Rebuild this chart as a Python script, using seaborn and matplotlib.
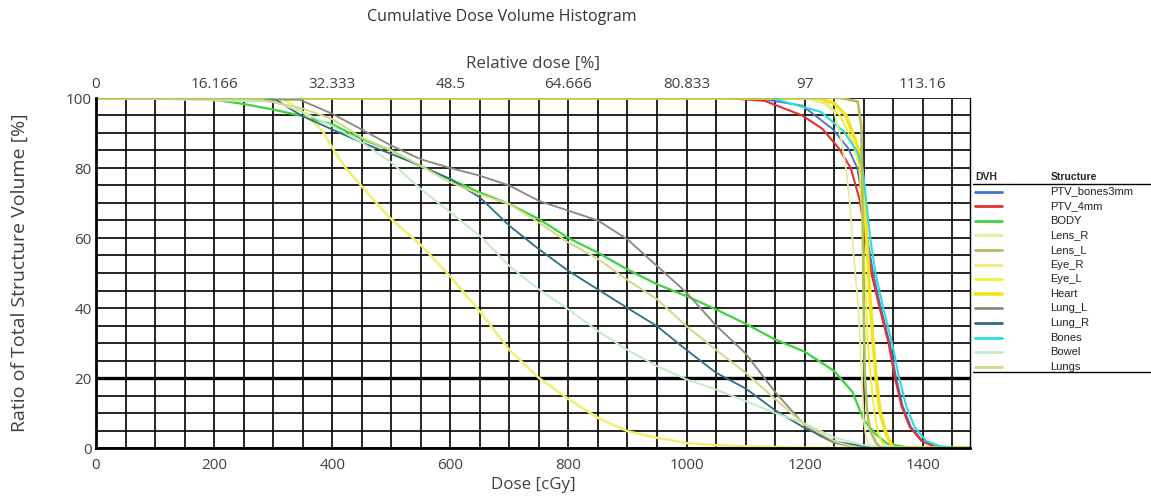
import numpy as np
import pandas as pd
import seaborn as sns
import matplotlib
matplotlib.use("Agg")
import matplotlib.pyplot as plt
from matplotlib.ticker import MultipleLocator

sns.set_style("white")
plt.rcParams["font.family"] = ["Open Sans", "DejaVu Sans"]

# -----------------------------------------------------------------
# DVH data (dose in cGy, volume in %)
# -----------------------------------------------------------------
ptv_bones_dose = [0, 1118, 1196, 1247, 1274, 1289, 1298, 1306, 1316, 1329, 1344, 1355, 1366, 1380, 1400, 1422, 1450, 1480]
ptv_bones_vol = [100, 100, 97.8, 91.2, 85.6, 80, 71, 60, 50, 40, 30, 20, 12, 6, 2, 0.4, 0, 0]

ptv_4mm_dose = [0, 1065, 1132, 1196, 1230, 1258, 1278, 1293, 1303, 1313, 1327, 1342, 1353, 1364, 1378, 1398, 1421, 1445, 1480]
ptv_4mm_vol = [100, 100, 99.2, 95, 91.2, 85.6, 80, 71, 60, 50, 40, 30, 20, 12, 6, 2, 0.3, 0, 0]

body_dose = [0, 150, 200, 250, 300, 350, 400, 450, 500, 550, 600, 650, 700, 750, 800, 850, 900, 950,
             1000, 1050, 1100, 1150, 1200, 1250, 1281, 1300, 1320, 1340, 1370, 1400, 1480]
body_vol = [100, 99.8, 99.5, 98.3, 96.7, 94.8, 92.5, 88.3, 85, 80.5, 76.8, 73, 69.7, 65.4, 60, 55.8, 51, 46.8,
            43.4, 39.6, 35.5, 31, 27.5, 22, 16, 8, 4, 1.2, 0.3, 0, 0]

lens_r_dose = [0, 1200, 1230, 1250, 1262, 1270, 1276, 1283, 1290, 1294, 1297, 1300, 1305, 1315, 1480]
lens_r_vol = [100, 100, 99, 96, 88, 80, 71, 55, 42, 30, 20, 8, 2, 0, 0]

lens_l_dose = [0, 1260, 1290, 1296, 1298, 1300, 1302, 1306, 1311, 1321, 1330, 1480]
lens_l_vol = [100, 100, 99, 92, 70, 40, 20, 10, 5, 1.4, 0, 0]

eye_r_dose = [0, 316, 350, 384, 403, 423, 451, 496, 550, 600, 650, 700, 750, 800, 850, 900, 950,
              1000, 1050, 1100, 1200, 1300, 1480]
eye_r_vol = [100, 100, 96, 90.5, 85, 80, 74.6, 66, 58, 49, 39, 28, 20, 14, 8.6, 4.8, 2.9,
             1.4, 0.8, 0.5, 0.1, 0, 0]

eye_l_dose = [0, 1203, 1240, 1260, 1280, 1293, 1299, 1304, 1307, 1312, 1318, 1325, 1335, 1480]
eye_l_vol = [100, 100, 98, 95, 88, 80, 60, 42, 30, 20, 10, 4, 0, 0]

heart_dose = [0, 1215, 1250, 1270, 1290, 1300, 1305, 1310, 1315, 1321, 1328, 1338, 1350, 1480]
heart_vol = [100, 100, 98.5, 95, 86, 75, 60, 45, 32, 20, 10, 4, 0, 0]

lung_l_dose = [0, 345, 400, 450, 500, 550, 600, 650, 700, 750, 800, 850, 900, 950, 1000, 1050,
               1100, 1150, 1200, 1225, 1250, 1275, 1300, 1320, 1480]
lung_l_vol = [100, 99.5, 95.5, 91, 86.4, 82.5, 80, 77.8, 75, 70.6, 67.8, 65, 59.6, 52, 44.4, 35,
              27, 16, 6.5, 3.5, 1.5, 0.6, 0.2, 0, 0]

lung_r_dose = [0, 305, 322, 350, 400, 450, 500, 550, 600, 650, 700, 750, 800, 850, 900, 950, 1000,
               1050, 1100, 1150, 1200, 1250, 1300, 1350, 1480]
lung_r_vol = [100, 99.5, 97.6, 94.8, 91, 87.3, 84, 80.6, 76.8, 71.6, 63.5, 56.8, 50.6, 45.3, 40, 34.8, 28,
              21.5, 17, 10.8, 5.7, 1.9, 0.5, 0, 0]

bones_dose = [0, 1143, 1228, 1267, 1289, 1298, 1304, 1311, 1320, 1333, 1348, 1360, 1372, 1386, 1406, 1430, 1460, 1480]
bones_vol = [100, 100, 96, 90.3, 84.7, 80, 71, 60, 50, 40, 30, 20, 12, 6, 2, 0.5, 0.05, 0]

bowel_dose = [0, 300, 350, 400, 450, 500, 550, 600, 650, 700, 750, 800, 850, 900, 950, 1000, 1050,
              1100, 1150, 1200, 1250, 1300, 1350, 1480]
bowel_vol = [100, 99, 96, 92, 87.3, 81.6, 74, 67.3, 60.6, 52, 45.3, 39.6, 33.4, 28, 23.4, 19.6, 16.7,
             13.4, 10, 7, 3, 0.8, 0, 0]

lungs_dose = [0, 280, 350, 400, 450, 500, 550, 600, 650, 700, 750, 800, 850, 900, 950, 1000, 1050,
              1100, 1150, 1200, 1250, 1280, 1300, 1480]
lungs_vol = [100, 99.5, 97, 94, 88.7, 85, 80.6, 75.9, 72.5, 69.7, 64.4, 58.7, 54, 48, 42.5, 34.8, 28,
             21.5, 14, 6.7, 2, 0.5, 0, 0]

structures = ["PTV_bones3mm", "PTV_4mm", "BODY", "Lens_R", "Lens_L", "Eye_R", "Eye_L",
              "Heart", "Lung_L", "Lung_R", "Bones", "Bowel", "Lungs"]
colors = ["#4a6fd0", "#e53030", "#3dd43d", "#e4eaa0", "#b2c25a", "#f0f070", "#f0f030",
          "#f4e41c", "#8a8876", "#2e6e86", "#30d8e0", "#c4ecc4", "#d4d888"]
widths = [1.3, 1.5, 1.6, 1.3, 1.9, 1.8, 1.3, 2.6, 1.3, 1.3, 1.5, 1.4, 1.4]

rel_labels = ["0", "16.166", "32.333", "48.5", "64.666", "80.833", "97", "113.16"]

curves = [(ptv_bones_dose, ptv_bones_vol), (ptv_4mm_dose, ptv_4mm_vol), (body_dose, body_vol),
          (lens_r_dose, lens_r_vol), (lens_l_dose, lens_l_vol), (eye_r_dose, eye_r_vol),
          (eye_l_dose, eye_l_vol), (heart_dose, heart_vol), (lung_l_dose, lung_l_vol),
          (lung_r_dose, lung_r_vol), (bones_dose, bones_vol), (bowel_dose, bowel_vol),
          (lungs_dose, lungs_vol)]

df = pd.concat([pd.DataFrame({"dose": d, "volume": v, "structure": s})
                for s, (d, v) in zip(structures, curves)], ignore_index=True)

# -----------------------------------------------------------------
# Figure
# -----------------------------------------------------------------
W, H = 1151, 498
fig = plt.figure(figsize=(W / 100, H / 100), dpi=100)
ax = fig.add_axes([96 / W, 1 - 448 / H, (970 - 96) / W, (448 - 98) / H])

# the lenses run along 100% the longest, so they go on top there
draw_order = [s for s in structures if s not in ("Lens_R", "Lens_L")] + ["Lens_R", "Lens_L"]
for s in draw_order:
    i = structures.index(s)
    sns.lineplot(data=df[df["structure"] == s], x="dose", y="volume", color=colors[i], lw=widths[i],
                 sort=False, estimator=None, ax=ax, legend=False)

ax.set_xlim(0, 1480)
ax.set_ylim(0, 100)
ax.xaxis.set_major_locator(MultipleLocator(200))
ax.xaxis.set_minor_locator(MultipleLocator(50))
ax.yaxis.set_major_locator(MultipleLocator(20))
ax.yaxis.set_minor_locator(MultipleLocator(5))
ax.set_axisbelow(True)
ax.grid(which="both", color="black", lw=1.2)
ax.axhline(20, color="black", lw=2.4, zorder=0.5)

for side in ["left", "bottom"]:
    ax.spines[side].set_color("black")
    ax.spines[side].set_linewidth(2)
ax.spines["right"].set_color("black")
ax.spines["right"].set_linewidth(1)
ax.spines["top"].set_visible(False)

ax.tick_params(which="both", length=0, labelsize=11, labelcolor="#404040")
ax.tick_params(axis="x", pad=7)
ax.tick_params(axis="y", pad=3)
ax.set_xlabel("Dose [cGy]", fontsize=12.2, color="#404040", labelpad=3)
ax.set_ylabel("Ratio of Total Structure Volume [%]", fontsize=14, color="#404040", labelpad=27)

# relative dose axis on top
top = ax.secondary_xaxis("top")
top.set_xticks(np.arange(0, 1401, 200), rel_labels)
top.tick_params(length=0, labelsize=11, labelcolor="#404040", pad=4)
top.spines["top"].set_visible(False)
top.set_xlabel("Relative dose [%]", fontsize=12.2, color="#404040", labelpad=7)

fig.text(502 / W, 1 - 17 / H, "Cumulative Dose Volume Histogram", ha="center", va="center",
         fontsize=11.5, color="#333333")

# -----------------------------------------------------------------
# DVH / Structure table legend on the right
# -----------------------------------------------------------------
lax = fig.add_axes([973 / W, 1 - 380 / H, (W - 973) / W, 215 / H])
lax.set_xlim(973, W)
lax.set_ylim(380, 165)
lax.axis("off")
lfont = ["Liberation Sans Narrow", "Liberation Sans"]
lax.text(975, 177, "DVH", fontsize=7.5, fontweight="bold", family=lfont, va="center")
lax.text(1051, 177, "Structure", fontsize=7.5, fontweight="bold", family=lfont, va="center")
lax.plot([973, W], [184, 184], color="black", lw=1)
for i, (s, c, lw) in enumerate(zip(structures, colors, widths)):
    y = 191.5 + i * 14.6
    lax.plot([975, 1002], [y, y], color=c, lw=max(lw, 2))
    lax.text(1050, y, s, fontsize=8, family=lfont, va="center", color="#222222")
lax.plot([973, W], [372, 372], color="black", lw=1)

fig.savefig("out.png", dpi=100)
